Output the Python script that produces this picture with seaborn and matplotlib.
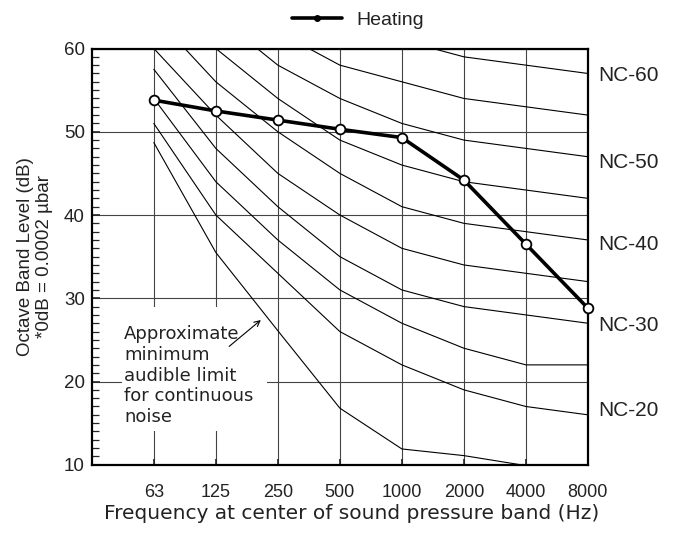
import numpy as np
import pandas as pd
import matplotlib
matplotlib.use('Agg')
import matplotlib.pyplot as plt
import seaborn as sns
from matplotlib.lines import Line2D
from matplotlib.patches import Rectangle
from matplotlib.ticker import MultipleLocator
import matplotlib.transforms as mtransforms

# octave band centre frequencies
freqs = ['63', '125', '250', '500', '1000', '2000', '4000', '8000']

# NC curves (dB per band)
nc_20 = [51, 40, 33, 26, 22, 19, 17, 16]
nc_25 = [54, 44, 37, 31, 27, 24, 22, 22]
nc_30 = [57.5, 48, 41, 35, 31, 29, 28, 27]
nc_35 = [60, 52, 45, 40, 36, 34, 33, 32]
nc_40 = [64, 56, 50, 45, 41, 39, 38, 37]
nc_45 = [67, 60, 54, 49, 46, 44, 43, 42]
nc_50 = [71, 64, 58, 54, 51, 49, 48, 47]
nc_55 = [74, 67, 62, 58, 56, 54, 53, 52]
nc_60 = [77, 71, 67, 63, 61, 59, 58, 57]

# minimum audible limit for continuous noise
threshold = [48.7, 35.5, 26.1, 16.8, 11.9, 11.1, 9.9, np.nan]

# measured heating noise
heating = [53.8, 52.5, 51.4, 50.3, 49.3, 44.2, 36.5, 28.8]

nc_labels = ['NC-60', 'NC-50', 'NC-40', 'NC-30', 'NC-20']
nc_label_y = [56.7, 46.3, 36.5, 26.7, 16.5]

curves = {'NC-20': nc_20, 'NC-25': nc_25, 'NC-30': nc_30, 'NC-35': nc_35,
          'NC-40': nc_40, 'NC-45': nc_45, 'NC-50': nc_50, 'NC-55': nc_55,
          'NC-60': nc_60, 'limit': threshold}
pos = np.arange(len(freqs))
rows = []
for name, vals in curves.items():
    for p, v in zip(pos, vals):
        rows.append({'curve': name, 'pos': p, 'level': v})
nc_df = pd.DataFrame(rows).dropna()

sns.set_style('ticks')
plt.rcParams['font.family'] = ['Liberation Sans', 'DejaVu Sans']
txt = '#222222'

fig = plt.figure(figsize=(6.75, 5.33), dpi=100)
ax = fig.add_axes([0.136, 0.128, 0.735, 0.781])

sns.lineplot(data=nc_df, x='pos', y='level', units='curve', estimator=None,
             color='black', lw=0.8, ax=ax, zorder=2, legend=False)
sns.lineplot(x=pos, y=heating, color='black', lw=2.6, marker='o',
             markersize=7, markerfacecolor='white', markeredgecolor='black',
             markeredgewidth=1.3, ax=ax, zorder=5, clip_on=False, legend=False)

ax.set_xlim(-1, 7)
ax.set_ylim(10, 60)
ax.set_xticks(pos)
ax.set_xticklabels(freqs)
ax.yaxis.set_major_locator(MultipleLocator(10))
ax.yaxis.set_minor_locator(MultipleLocator(1))
ax.set_axisbelow(True)
ax.grid(True, which='major', color='#444444', lw=0.8)

ax.tick_params(axis='x', direction='in', length=4, width=1.2, pad=14,
               labelsize=13, labelcolor=txt)
ax.tick_params(axis='y', which='major', direction='in', length=6, width=1.2,
               pad=5, labelsize=13.5, labelcolor=txt)
ax.tick_params(axis='y', which='minor', direction='in', length=5, width=0.9)
for s in ax.spines.values():
    s.set_linewidth(1.6)
    s.set_color('black')

ax.set_xlabel('Frequency at center of sound pressure band (Hz)', fontsize=14.5,
              color=txt, fontfamily='DejaVu Sans')
ax.xaxis.set_label_coords(0.524, -0.095)
ax.set_ylabel('Octave Band Level (dB)\n*0dB = 0.0002 µbar', fontsize=13.5,
              color=txt, linespacing=1.2)
ax.yaxis.set_label_coords(-0.078, 0.5)

# white patch behind the annotation
ax.add_patch(Rectangle((-0.505, 14.0), 2.335, 15.0, facecolor='white',
                       edgecolor='none', zorder=1.5))
ax.text(-0.48, 26.8, 'Approximate\nminimum\naudible limit\nfor continuous\nnoise',
        ha='left', va='top', fontsize=13, color=txt, linespacing=1.2,
        zorder=3, fontfamily='DejaVu Sans')
ax.annotate('', xy=(1.76, 27.6), xytext=(1.18, 24.0),
            arrowprops=dict(arrowstyle='->', lw=0.8, color='black'), zorder=3)

trans = mtransforms.blended_transform_factory(ax.transAxes, ax.transData)
for lab, yv in zip(nc_labels, nc_label_y):
    ax.text(1.02, yv, lab, transform=trans, ha='left', va='center',
            fontsize=15, color=txt)

proxy = Line2D([], [], color='black', lw=2.6, marker='o', markersize=4,
               markerfacecolor='black')
fig.legend(handles=[proxy], labels=['Heating'], loc='center',
           bbox_to_anchor=(0.53, 0.962), frameon=False, fontsize=14,
           handlelength=2.6, handletextpad=0.7, labelcolor=txt)

fig.savefig('out.png', dpi=100)
